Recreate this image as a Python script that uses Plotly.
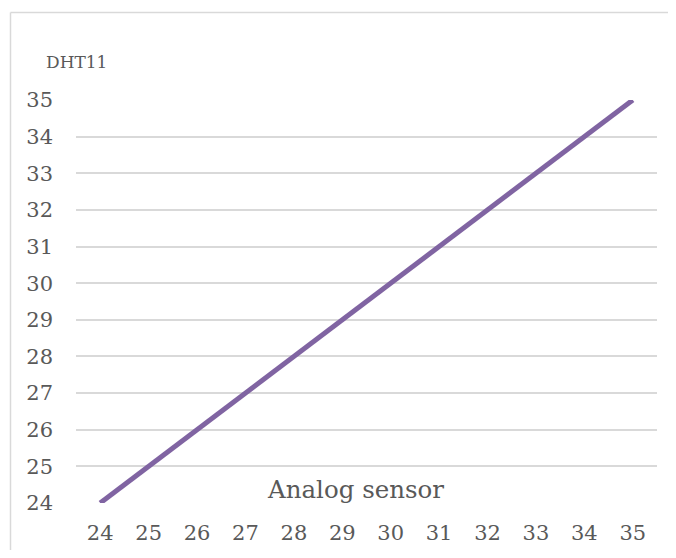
import plotly.graph_objects as go

categories = ["24", "25", "26", "27", "28", "29", "30", "31", "32", "33", "34", "35"]
dht11_values = [24, 25, 26, 27, 28, 29, 30, 31, 32, 33, 34, 35]
y_ticks = [24, 25, 26, 27, 28, 29, 30, 31, 32, 33, 34, 35]

FONT = "DejaVu Serif, Liberation Serif, serif"
GRAY = "#595959"

fig = go.Figure()
fig.add_trace(go.Scatter(
    x=categories, y=dht11_values, mode="lines",
    line=dict(color="#8064A2", width=5),
    showlegend=False, hoverinfo="skip",
))

OFF = 8  # body margin of the html page
W, H = 676 - 2 * OFF, 558 - 2 * OFF
L, R, T, B = 76 - OFF, W - (657 - OFF), 100 - OFF, H - (503 - OFF)
pw, ph = W - L - R, H - T - B

def px_x(x):
    return (x - OFF - L) / pw

def px_y(y):
    return (H + OFF - B - y) / ph

fig.update_layout(
    width=W, height=H,
    margin=dict(l=L, r=R, t=T, b=B, autoexpand=False),
    paper_bgcolor="white", plot_bgcolor="white",
    font=dict(family=FONT, color=GRAY, size=21),
    xaxis=dict(
        type="category", range=[-0.5, 11.5],
        showgrid=False, zeroline=False, showline=False,
        ticks="", tickfont=dict(size=21, color=GRAY),
        ticklabelstandoff=15, automargin=False,
        fixedrange=True,
    ),
    yaxis=dict(
        range=[24, 35], tickvals=y_ticks,
        showgrid=True, gridcolor="#D9D9D9", gridwidth=1.5,
        zeroline=False, showline=False, ticks="",
        tickfont=dict(size=21, color=GRAY),
        ticklabelstandoff=22, automargin=False,
        fixedrange=True,
    ),
    annotations=[
        dict(text="DHT11", xref="paper", yref="paper",
             x=px_x(44), y=px_y(62), xanchor="left", yanchor="middle",
             showarrow=False, font=dict(size=17, color=GRAY, family=FONT)),
        dict(text="Analog sensor", xref="paper", yref="paper",
             x=px_x(355), y=px_y(489), xanchor="center", yanchor="middle",
             showarrow=False, font=dict(size=24.5, color=GRAY, family=FONT)),
    ],
    shapes=[
        dict(type="line", xref="paper", yref="paper",
             x0=px_x(10.5), x1=px_x(680), y0=px_y(12.5), y1=px_y(12.5),
             line=dict(color="#D9D9D9", width=1.5)),
        dict(type="line", xref="paper", yref="paper",
             x0=px_x(10.5), x1=px_x(10.5), y0=px_y(12.5), y1=px_y(565),
             line=dict(color="#D9D9D9", width=1.5)),
    ],
)

fig.write_html("out.html")
